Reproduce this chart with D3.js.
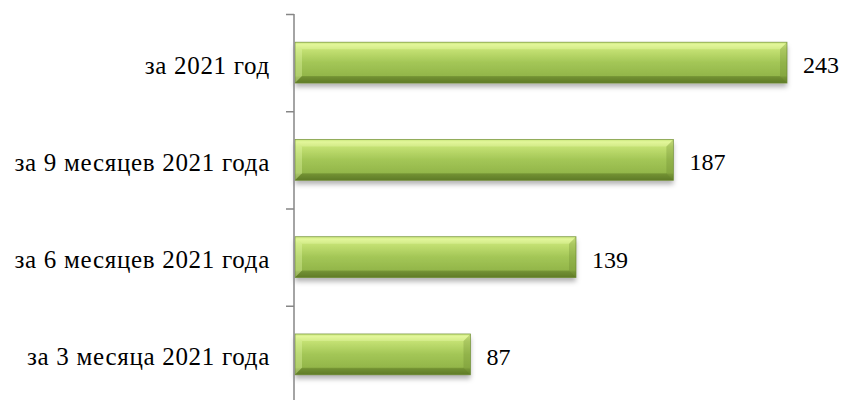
<!DOCTYPE html>
<html><head><meta charset="utf-8">
<script src="https://cdn.jsdelivr.net/npm/d3@7"></script>
<style>html,body{margin:0;padding:0;background:#fff;} svg{display:block;}</style>
</head><body>
<svg id="chart" width="845" height="400"></svg>
<script>
const categories = ["за 2021 год", "за 9 месяцев 2021 года", "за 6 месяцев 2021 года", "за 3 месяца 2021 года"];
const values = [243, 187, 139, 87];

const svg = d3.select("#chart");
const serif = '"Liberation Serif", "Times New Roman", Tinos, serif';
const axisX = 294, plotTop = 14, plotBottom = 403;
const x = d3.scaleLinear().domain([0, 243]).range([axisX, 787]);
const y = d3.scaleBand().domain(categories).range([plotTop, plotBottom]).paddingInner(0.58).paddingOuter(0.29);
const yIdx = d3.scaleLinear().domain([0, categories.length]).range([plotTop, plotBottom]);

const defs = svg.append("defs");
const g = defs.append("linearGradient").attr("id", "grad").attr("x1", 0).attr("y1", 0).attr("x2", 0).attr("y2", 1);
[[0, "#b9db62"], [0.06, "#dcf38e"], [0.18, "#c4e173"], [0.5, "#a3c656"], [0.82, "#93b64a"], [0.86, "#7f9f3c"], [1, "#66832c"]]
  .forEach(([o, c]) => g.append("stop").attr("offset", o).attr("stop-color", c));
const f = defs.append("filter").attr("id", "shadow").attr("x", "-5%").attr("y", "-20%").attr("width", "110%").attr("height", "160%");
f.append("feDropShadow").attr("dx", 0).attr("dy", 4).attr("stdDeviation", 2.5).attr("flood-color", "#000").attr("flood-opacity", 0.3);

const bars = svg.append("g").selectAll("g").data(categories).join("g");
const bv = 7;
bars.each(function(d, i) {
  const sel = d3.select(this);
  const x0 = x(0) + 1, x1 = x(values[i]), y0 = y(d), h = y.bandwidth(), y1 = y0 + h;
  sel.append("rect").attr("x", x0).attr("y", y0).attr("width", x1 - x0).attr("height", h)
    .attr("fill", "url(#grad)").attr("filter", "url(#shadow)");
  sel.append("path").attr("d", `M${x0},${y0}L${x0+bv},${y0+bv}L${x0+bv},${y1-bv}L${x0},${y1}Z`)
    .attr("fill", "#e8fbb0").attr("opacity", 0.35);
  sel.append("path").attr("d", `M${x1},${y0}L${x1-bv},${y0+bv}L${x1-bv},${y1-bv}L${x1},${y1}Z`)
    .attr("fill", "#5f7d26").attr("opacity", 0.25);
  sel.append("path").attr("d", `M${x0},${y0}L${x1},${y0}L${x1-bv},${y0+bv}L${x0+bv},${y0+bv}Z`)
    .attr("fill", "#f2ffb5").attr("opacity", 0.3);
  sel.append("path").attr("d", `M${x0},${y1}L${x1},${y1}L${x1-bv},${y1-bv}L${x0+bv},${y1-bv}Z`)
    .attr("fill", "#4e6a1c").attr("opacity", 0.3);
  sel.append("rect").attr("x", x0).attr("y", y0).attr("width", x1 - x0).attr("height", h)
    .attr("fill", "none").attr("stroke", "#6c8a32").attr("stroke-width", 0.8).attr("opacity", 0.8);
});

svg.append("g").selectAll("text").data(categories).join("text")
  .attr("x", (d, i) => x(values[i]) + 16)
  .attr("y", d => y(d) + y.bandwidth() / 2)
  .attr("dy", "0.44em")
  .style("font-family", serif)
  .attr("font-size", 24).attr("fill", "#000")
  .text((d, i) => values[i]);

svg.append("g").selectAll("text").data(categories).join("text")
  .attr("x", 270)
  .attr("y", d => y(d) + y.bandwidth() / 2)
  .attr("dy", "0.44em").attr("text-anchor", "end")
  .style("font-family", serif).style("letter-spacing", "0.7px")
  .attr("font-size", 25).attr("fill", "#000")
  .text(d => d);

const axis = d3.axisLeft(yIdx).tickValues(d3.range(categories.length + 1)).tickSize(8).tickFormat("");
const ag = svg.append("g").attr("transform", `translate(${axisX},0)`).call(axis);
ag.select(".domain").attr("stroke", "#868686").attr("stroke-width", 1.5).attr("d", `M0,${plotTop}V${plotBottom}`);
ag.selectAll(".tick line").attr("stroke", "#868686").attr("stroke-width", 1.5);
</script>
</body></html>
